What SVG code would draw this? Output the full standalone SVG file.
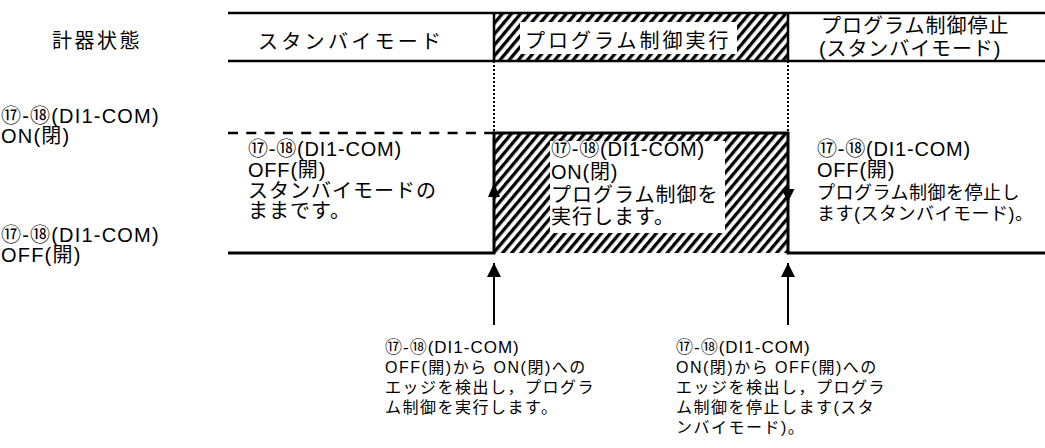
<svg xmlns="http://www.w3.org/2000/svg" width="1045" height="448" viewBox="0 0 1045 448">
<style>
text { font-family: "Liberation Sans", "Noto Sans CJK JP", sans-serif; fill: #000; }
.h { font-size: 20px; letter-spacing: 3.3px; }
.m { font-size: 20px; letter-spacing: 1px; }
.ml { font-size: 20px; letter-spacing: 0.8px; }
.mw { font-size: 20px; letter-spacing: 1.2px; }
.mc { font-size: 18px; letter-spacing: 0.5px; }
.s { font-size: 16px; letter-spacing: 1.5px; }
.sl { font-size: 17px; letter-spacing: 1px; }
.band { stroke: #000; stroke-width: 2.5; fill: none; }
.sig { stroke: #000; stroke-width: 3; fill: none; }
.dot { stroke: #000; stroke-width: 2; stroke-dasharray: 2 2; fill: none; }
.dash { stroke: #000; stroke-width: 2.5; stroke-dasharray: 10 8.3; fill: none; }
.conn { stroke: #000; stroke-width: 2; fill: none; }
.hatch { fill: url(#hatch); }
.wbox { fill: #fff; }
</style>
<defs>
<pattern id="hatch" patternUnits="userSpaceOnUse" width="7" height="10" patternTransform="rotate(40)">
<rect x="0" y="0" width="3.3" height="10" fill="#000"/>
</pattern>
<marker id="ah" markerUnits="userSpaceOnUse" markerWidth="16" markerHeight="16" refX="14" refY="7" orient="auto">
<path d="M0,0 L14,7 L0,14 z" fill="#000"/>
</marker>
</defs>

<g id="state-header">
<text class="h" x="52" y="48" style="letter-spacing:2.5px">計器状態</text>
</g>

<g id="band">
<rect class="hatch" x="494" y="13" width="294" height="48"/>
<rect class="wbox" x="520" y="22" width="217" height="32"/>
<path class="band" d="M228,13 H1045 M228,61 H1045 M494,13 V61 M788,13 V61"/>
</g>

<g id="state-standby">
<text class="h" x="258" y="48.5">スタンバイモード</text>
</g>
<g id="state-run">
<text class="h" x="525" y="48" style="letter-spacing:3px">プログラム制御実行</text>
</g>
<g id="state-stop">
<text class="h" x="821" y="33" style="letter-spacing:1px">プログラム制御停止</text>
<text class="h" x="819" y="56" style="letter-spacing:0.9px">(スタンバイモード)</text>
</g>

<g id="level-labels">
<text class="mw" x="1" y="123">⑰-⑱(DI1-COM)</text>
<text class="mw" x="1" y="143">ON(閉)</text>
<text class="mw" x="1" y="242">⑰-⑱(DI1-COM)</text>
<text class="mw" x="1" y="262">OFF(開)</text>
</g>

<g id="signal">
<rect class="hatch" x="494" y="133" width="294" height="120"/>
<rect class="wbox" x="550" y="141" width="175" height="92"/>
<path class="dash" d="M228,133 H494"/>
<path class="dot" d="M494,61 V133 M788,61 V133"/>
<path class="sig" d="M228,253 H494 V133 H788 V253 H1045"/>
<polygon points="494,183 488,197 500,197" fill="#000"/>
<polygon points="788,202 781.5,189 794.5,189" fill="#000"/>
</g>

<g id="note-standby">
<text class="ml" x="248" y="156">⑰-⑱(DI1-COM)</text>
<text class="ml" x="248" y="177">OFF(開)</text>
<text class="m" x="248" y="198">スタンバイモードの</text>
<text class="m" x="248" y="218">ままです。</text>
</g>

<g id="note-run">
<text class="ml" x="551" y="156">⑰-⑱(DI1-COM)</text>
<text class="ml" x="551" y="179">ON(閉)</text>
<text class="m" x="551" y="202">プログラム制御を</text>
<text class="m" x="551" y="224">実行します。</text>
</g>

<g id="note-stop">
<text class="ml" x="817" y="156">⑰-⑱(DI1-COM)</text>
<text class="ml" x="817" y="177">OFF(開)</text>
<text class="mc" x="817" y="199">プログラム制御を停止し</text>
<text class="mc" x="817" y="220">ます(スタンバイモード)。</text>
</g>

<g id="connectors">
<path class="conn" d="M494,325 V263" marker-end="url(#ah)"/>
<path class="conn" d="M788,325 V263" marker-end="url(#ah)"/>
</g>

<g id="note-rise">
<text class="sl" x="385" y="353">⑰-⑱(DI1-COM)</text>
<text class="s" x="385" y="373">OFF(開)から ON(閉)への</text>
<text class="s" x="385" y="393">エッジを検出し，プログラ</text>
<text class="s" x="385" y="413">ム制御を実行します。</text>
</g>

<g id="note-fall">
<text class="sl" x="676" y="353">⑰-⑱(DI1-COM)</text>
<text class="s" x="676" y="373">ON(閉)から OFF(開)への</text>
<text class="s" x="676" y="393">エッジを検出し，プログラ</text>
<text class="s" x="676" y="413">ム制御を停止します(スタ</text>
<text class="s" x="676" y="433">ンバイモード)。</text>
</g>
</svg>
